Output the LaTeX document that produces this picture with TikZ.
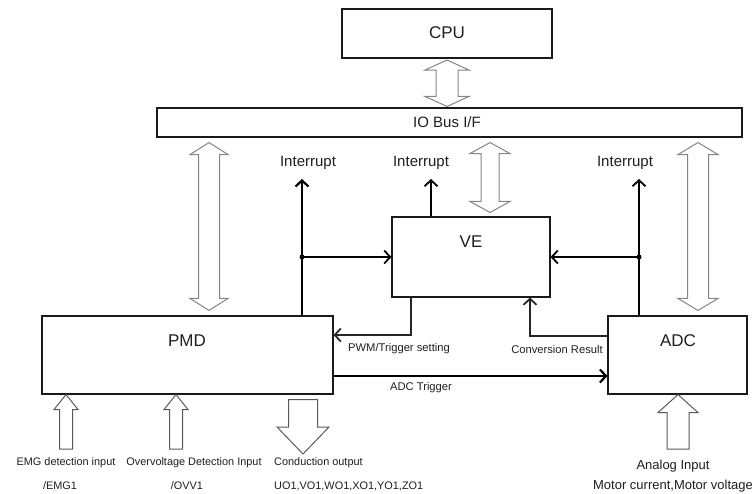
\documentclass[tikz,border=0pt]{standalone}
\usepackage{fontspec}
\setmainfont{Liberation Sans}
\usetikzlibrary{arrows.meta,calc}
\newcommand\vdarr[6]{%
  \path[#6] let \p1=#1, \p2=#2 in
  (\x1,\y1) -- (\x1+#4,\y1-#5) -- (\x1+#3,\y1-#5) -- (\x1+#3,\y2+#5) -- (\x1+#4,\y2+#5) -- (\x1,\y2)
  -- (\x1-#4,\y2+#5) -- (\x1-#3,\y2+#5) -- (\x1-#3,\y1-#5) -- (\x1-#4,\y1-#5) -- cycle;}
\newcommand\uparr[6]{%
  \path[#6] let \p1=#1, \p2=#2 in
  (\x1,\y1) -- (\x1+#4,\y1-#5) -- (\x1+#3,\y1-#5) -- (\x1+#3,\y2) -- (\x1-#3,\y2)
  -- (\x1-#3,\y1-#5) -- (\x1-#4,\y1-#5) -- cycle;}
\newcommand\dnarr[6]{%
  \path[#6] let \p1=#1, \p2=#2 in
  (\x1-#3,\y1) -- (\x1+#3,\y1) -- (\x1+#3,\y2+#5) -- (\x1+#4,\y2+#5) -- (\x1,\y2)
  -- (\x1-#4,\y2+#5) -- (\x1-#3,\y2+#5) -- cycle;}
\begin{document}
\begin{tikzpicture}[x=1pt,y=-1pt,
  box/.style={draw=black!90, line width=1.1pt, inner sep=0pt, fill=white},
  lbl/.style={inner sep=0pt, text=black!88},
  big/.style={lbl, font=\fontsize{17}{20}\selectfont},
  mid/.style={lbl, font=\fontsize{15}{18}\selectfont},
  sml/.style={lbl, font=\fontsize{11.2}{13}\selectfont},
  btm/.style={lbl, font=\fontsize{10.9}{13}\selectfont},
  rgt/.style={lbl, font=\fontsize{13}{15}\selectfont},
  busarrow/.style={draw=black!48, line width=1pt, fill=white, line join=miter},
  inarrow/.style={draw=black!65, line width=1pt, fill=white, line join=miter},
  sig/.style={draw=black, line width=1.8pt, -{Straight Barb[length=6pt,width=13pt,line width=1.8pt]}},
  sigthick/.style={draw=black, line width=2.6pt, -{Straight Barb[length=6pt,width=13pt,line width=2.2pt]}},
  sigthin/.style={draw=black!85, line width=1.4pt, -{Straight Barb[length=6pt,width=13pt,line width=1.8pt]}},
  dotnode/.style={circle, fill=black, inner sep=0pt, minimum size=5pt}
]
\useasboundingbox (0,0) rectangle (752,493);

% blocks
\node[box, line width=2pt, minimum width=210pt, minimum height=49pt] (cpu) at (447,33.5) {};
\node[big] (cputext) at (447,33) {CPU};
\node[box, minimum width=585pt, minimum height=29pt] (io) at (449.5,122.5) {};
\node[mid] (iotext) at (447,122) {IO Bus I/F};
\node[box, minimum width=158pt, minimum height=80pt] (ve) at (471,257) {};
\node[big] (vetext) at (471,242) {VE};
\node[box, minimum width=291pt, minimum height=78pt] (pmd) at (187.5,355) {};
\node[big] (pmdtext) at (187,341) {PMD};
\node[box, minimum width=139pt, minimum height=78pt] (adc) at (677.5,355) {};
\node[big] (adctext) at (678,341) {ADC};

% bus double arrows
\coordinate (pa) at (209,0);
\coordinate (va) at (490,0);
\coordinate (aa) at (698,0);
\vdarr{($(cpu.south)+(0,1)$)}{($(io.north)+(0,-1)$)}{11pt}{22pt}{10pt}{busarrow}
\vdarr{($(pa |- io.south)+(0,5)$)}{($(pa |- pmd.north)+(0,-5)$)}{10.5pt}{19pt}{12pt}{busarrow}
\vdarr{($(va |- io.south)+(0,5)$)}{($(va |- ve.north)+(0,-4)$)}{9pt}{20pt}{11pt}{busarrow}
\vdarr{($(aa |- io.south)+(0,5)$)}{($(aa |- adc.north)+(0,-5)$)}{10.5pt}{20pt}{12pt}{busarrow}

% interrupts
\node[mid] (int1) at (308,163) {Interrupt};
\node[mid] (int2) at (421,163) {Interrupt};
\node[mid] (int3) at (625,163) {Interrupt};
\coordinate (i1) at (302,179);
\coordinate (i2) at (431,179);
\coordinate (i3) at (639,179);
\node[dotnode] (d1) at (302,257) {};
\node[dotnode] (d2) at (639,257) {};
\draw[sigthick] (i1 |- pmd.north) -- (i1);
\draw[sig] (i2 |- ve.north) -- (i2);
\draw[sig] (i3 |- adc.north) -- (i3);
\draw[sig] (d1.center) -- (ve.west);
\draw[sig] (d2.center) -- (ve.east);

% PWM / conversion / trigger
\coordinate (pw) at (411,335);
\coordinate (cr) at (530,336);
\coordinate (at) at (0,376);
\draw[sigthin] (pw |- ve.south) -- (pw) -- (pw -| pmd.east);
\draw[sigthin] (cr -| adc.west) -- (cr) -- (cr |- ve.south);
\draw[sigthick] (at -| pmd.east) -- (at -| adc.west);
\node[sml] (pwmlbl) at (399,349) {PWM/Trigger setting};
\node[sml] (crlbl) at (557,349) {Conversion Result};
\node[sml] (atlbl) at (421,388) {ADC Trigger};

% bottom inputs / outputs
\coordinate (ea) at (66,449);
\coordinate (oa) at (176,449);
\coordinate (ca) at (303,454);
\coordinate (ana) at (678,449);
\uparr{(ea |- pmd.south)}{(ea)}{6.5pt}{12pt}{15pt}{inarrow}
\uparr{(oa |- pmd.south)}{(oa)}{6.5pt}{12pt}{15pt}{inarrow}
\dnarr{($(ca |- pmd.south)+(0,5)$)}{(ca)}{14.5pt}{26pt}{27pt}{inarrow}
\uparr{(ana |- adc.south)}{(ana)}{11pt}{20pt}{18pt}{inarrow}

\node[btm] (emg) at (66,463) {EMG detection input};
\node[btm] (emg1) at (60,486) {/EMG1};
\node[btm] (ovv) at (194,463) {Overvoltage Detection Input};
\node[btm] (ovv1) at (187,486) {/OVV1};
\node[btm, anchor=west] (cond) at (274,463) {Conduction output};
\node[btm, anchor=west] (cond1) at (274,486) {UO1,VO1,WO1,XO1,YO1,ZO1};
\node[rgt] (ana1) at (673,466) {Analog Input};
\node[rgt] (ana2) at (673,486) {Motor current,Motor voltage};
\end{tikzpicture}
\end{document}
